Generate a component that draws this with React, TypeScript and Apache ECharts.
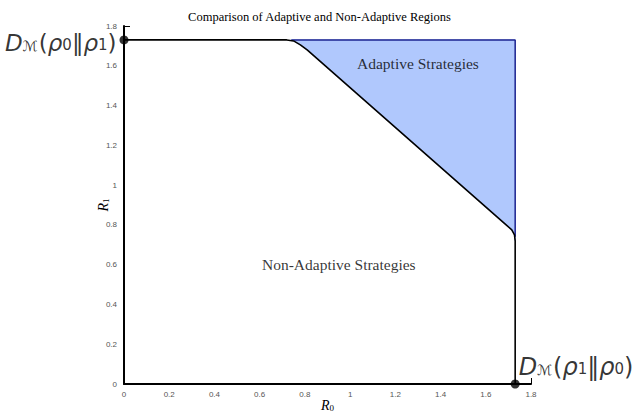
import React, { useEffect, useRef } from "react";
import * as echarts from "echarts";

const chartTitle = "Comparison of Adaptive and Non-Adaptive Regions";
const axisMin = 0;
const axisMax = 1.8;
const axisStep = 0.2;

// Outer boundary of the achievable (non-adaptive) region
const boundaryR0 = [0, 0.72, 0.75, 0.78, 0.81, 1.69, 1.715, 1.727, 1.73, 1.73];
const boundaryR1 = [1.73, 1.73, 1.725, 1.705, 1.68, 0.8, 0.775, 0.75, 0.72, 0];

// Adaptive region polygon
const adaptiveR0 = [0.74, 0.75, 0.78, 0.81, 1.69, 1.715, 1.727, 1.73, 1.73];
const adaptiveR1 = [1.73, 1.725, 1.705, 1.68, 0.8, 0.775, 0.75, 0.72, 1.73];

// Adaptive region outer edges (top and right)
const edgeR0 = [0.74, 1.73, 1.73];
const edgeR1 = [1.73, 1.73, 0.74];

// Endpoints
const endpointR0 = [0, 1.73];
const endpointR1 = [1.73, 0];

const regionNames = ["Adaptive Strategies", "Non-Adaptive Strategies"];
const regionR0 = [1.3, 0.95];
const regionR1 = [1.61, 0.6];

const serif = "'Liberation Serif', 'DejaVu Serif', serif";
const sans = "'DejaVu Sans', 'Noto Sans', sans-serif";

const makeMathRich = (size: number) => ({
  a: { fontFamily: sans, fontSize: size, fontStyle: "italic", color: "#000", lineHeight: 20 },
  p: { fontFamily: sans, fontSize: size, color: "#000", lineHeight: 20 },
  m: { fontFamily: sans, fontSize: 14, color: "#000", verticalAlign: "bottom", lineHeight: 14, padding: [8, 1, 0, 0] },
  s: { fontFamily: sans, fontSize: 15, color: "#000", verticalAlign: "bottom", lineHeight: 15, padding: [5, 0, 0, 0] },
});

const fmt = (v: number) => String(+v.toFixed(1));

export default function App() {
  const ref = useRef<HTMLDivElement>(null);
  useEffect(() => {
    if (!ref.current) return;
    const chart = echarts.init(ref.current, undefined, { renderer: "svg" });
    const axisCommon = {
      type: "value" as const,
      min: axisMin,
      max: axisMax,
      interval: axisStep,
      splitLine: { show: false },
      axisLine: { show: true, lineStyle: { color: "#000", width: 2 } },
      axisTick: { show: true, inside: true, length: 6, customValues: [axisMax], lineStyle: { color: "#000", width: 1 } },
      axisLabel: {
        fontFamily: "'Liberation Sans', Arial, sans-serif",
        fontSize: 8,
        color: "#555",
        formatter: fmt,
      },
      nameLocation: "middle" as const,
      nameMoveOverlap: false,
    };
    const nameRich = {
      r: { fontFamily: serif, fontSize: 14, fontStyle: "italic", color: "#000", lineHeight: 13 },
      s: { fontFamily: serif, fontSize: 9, color: "#000", verticalAlign: "bottom", lineHeight: 9, padding: [4, 0, 0, 0] },
    };
    chart.setOption({
      animation: false,
      backgroundColor: "#fff",
      title: {
        text: chartTitle,
        left: "center",
        top: 5,
        textStyle: { fontFamily: serif, fontSize: 12.5, fontWeight: "normal", color: "#000" },
      },
      grid: { left: 124, right: 108, top: 26, bottom: 29, containLabel: false, outerBoundsMode: "none" },
      xAxis: {
        ...axisCommon,
        name: "{r|R}{s|0}",
        nameGap: 15,
        nameTextStyle: { rich: nameRich },
        axisLabel: { ...axisCommon.axisLabel, margin: 6 },
      },
      yAxis: {
        ...axisCommon,
        name: "{r|R}{s|1}",
        nameGap: 14,
        nameRotate: 90,
        nameTextStyle: { rich: nameRich },
        axisLabel: { ...axisCommon.axisLabel, margin: 7 },
      },
      series: [
        {
          type: "custom",
          coordinateSystem: "cartesian2d",
          silent: true,
          z: 1,
          data: adaptiveR0.map((x, i) => [x, adaptiveR1[i]]),
          renderItem: (params: any, api: any) => {
            if (params.dataIndex !== 0) return null;
            const pts = adaptiveR0.map((x, i) => api.coord([x, adaptiveR1[i]]));
            return { type: "polygon", shape: { points: pts }, style: { fill: "#b0c8fd", stroke: "#b0c8fd", lineWidth: 1 } };
          },
        },
        {
          type: "line",
          z: 3,
          data: edgeR0.map((x, i) => [x, edgeR1[i]]),
          showSymbol: false,
          lineStyle: { color: "#1c2390", width: 1.5 },
          silent: true,
        },
        {
          type: "line",
          z: 4,
          data: boundaryR0.map((x, i) => [x, boundaryR1[i]]),
          showSymbol: false,
          lineStyle: { color: "#000", width: 1.6 },
          silent: true,
        },
        {
          type: "scatter",
          z: 5,
          symbolSize: 9,
          itemStyle: { color: "#000" },
          data: [
            {
              value: [endpointR0[0], endpointR1[0]],
              label: {
                show: true,
                position: "left",
                distance: 3,
                offset: [0, 3],
                formatter: "{a|D}{m|ℳ}{p|(}{a|ρ}{s|0}{p|‖}{a|ρ}{s|1}{p|)}",
                rich: makeMathRich(23),
              },
            },
            {
              value: [endpointR0[1], endpointR1[1]],
              label: {
                show: true,
                position: [8, -23],
                formatter: "{a|D}{m|ℳ}{p|(}{a|ρ}{s|1}{p|‖}{a|ρ}{s|0}{p|)}",
                rich: makeMathRich(24),
              },
            },
          ],
        },
        {
          type: "scatter",
          z: 6,
          symbolSize: 0,
          silent: true,
          data: regionNames.map((n, i) => ({ value: [regionR0[i], regionR1[i]], name: n })),
          label: {
            show: true,
            position: "inside",
            formatter: (p: any) => p.name,
            fontFamily: serif,
            fontSize: 15.5,
            color: "#000",
          },
        },
      ],
    });
    return () => chart.dispose();
  }, []);
  return <div ref={ref} style={{ position: "fixed", left: 0, top: 0, width: 639, height: 413 }} />;
}
